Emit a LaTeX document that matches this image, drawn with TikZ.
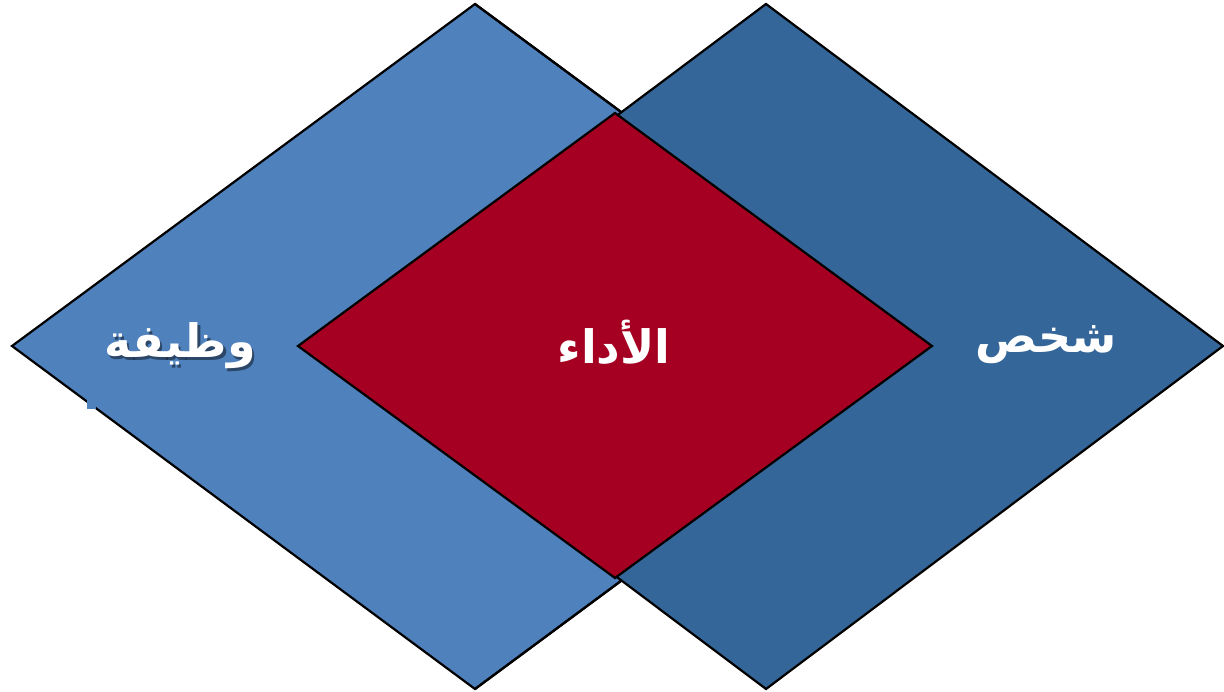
\documentclass[tikz,border=0pt]{standalone}
\usepackage{fontspec}
\TeXXeTstate=1
\newfontfamily\arabicfont[Script=Arabic]{DejaVu Sans}
\definecolor{lightblue}{HTML}{4F81BD}
\definecolor{darkblue}{HTML}{346699}
\definecolor{perfred}{HTML}{A50021}
\begin{document}
\begin{tikzpicture}[x=1pt,y=-1pt,
  shapeline/.style={draw=black,line width=2.2pt,line join=miter},
  label/.style={text=white,font=\arabicfont\bfseries\fontsize{46}{50}\selectfont,inner sep=0pt},
  shadowlabel/.style={text=black,opacity=0.45,font=\arabicfont\bfseries\fontsize{46}{50}\selectfont,inner sep=0pt}]
\useasboundingbox (0,0) rectangle (1224,692);
\fill[white] (0,0) rectangle (1224,692);
% left diamond
\path[shapeline,fill=lightblue] (475,4) -- (938,346) -- (475,689) -- (12,346) -- cycle;
% right diamond
\path[shapeline,fill=darkblue] (766,4) -- (1223,346) -- (766,689) -- (309,346) -- cycle;
% left diamond edge visible near the notches
\draw[line width=2.2pt] (475,4) -- (621,112);
\draw[line width=2.2pt] (475,689) -- (621,581);
% central diamond
\path[shapeline,fill=perfred] (615,113) -- (932,346) -- (615,578) -- (298,346) -- cycle;
% small artefact
\fill[lightblue] (87,398) rectangle (96,409);
% labels
\node[shadowlabel] (jobs) at (182.5,348.5) {\beginR وظيفة\endR};
\node[label] (job) at (180,346) {\beginR وظيفة\endR};
\node[label] (perf) at (614,342) {\beginR الأداء\endR};
\node[label] (person) at (1046,345) {\beginR شخص\endR};
\end{tikzpicture}
\end{document}
